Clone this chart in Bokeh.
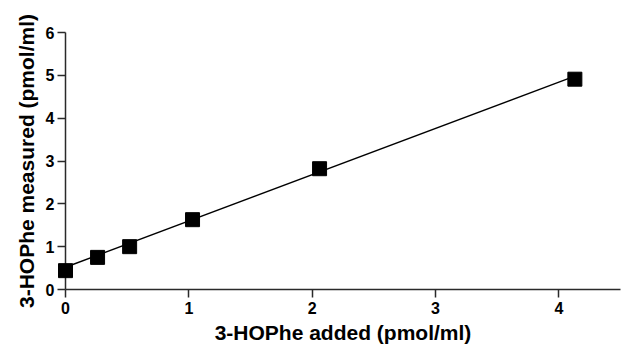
from bokeh.plotting import figure
from bokeh.models import Range1d, FixedTicker
from bokeh.embed import file_html
from bokeh.resources import INLINE

# data
added = [0.0, 0.26, 0.52, 1.03, 2.06, 4.13]
measured = [0.44, 0.75, 1.0, 1.63, 2.82, 4.91]
fit_x = [0.0, 4.13]
fit_y = [0.52, 4.98]
x_ticks = [0, 1, 2, 3, 4]
y_ticks = [0, 1, 2, 3, 4, 5, 6]

FONT = "Liberation Sans"
AX = "#2a2a2a"

p = figure(frame_width=555, frame_height=257, output_backend="svg",
           toolbar_location=None, x_range=Range1d(0, 4.5), y_range=Range1d(0, 6),
           min_border_left=65, min_border_top=32, min_border_right=4, min_border_bottom=0)
p.outline_line_color = None
p.xgrid.visible = False
p.ygrid.visible = False

p.line(fit_x, fit_y, line_color="black", line_width=1.4)
r = p.scatter(added, measured, marker="square", size=14, fill_color="black", line_color="black")
r.level = "overlay"

for ax, ticks, lab in ((p.xaxis[0], x_ticks, "3-HOPhe added (pmol/ml)"),
                       (p.yaxis[0], y_ticks, "3-HOPhe measured (pmol/ml)")):
    ax.ticker = FixedTicker(ticks=ticks)
    ax.minor_tick_line_color = None
    ax.major_tick_out = 8
    ax.major_tick_in = 0
    ax.axis_line_color = AX
    ax.axis_line_width = 1.5
    ax.major_tick_line_color = AX
    ax.major_tick_line_width = 1.5
    ax.major_label_text_font = FONT
    ax.major_label_text_font_style = "bold"
    ax.major_label_text_font_size = "16px"
    ax.major_label_text_color = "black"
    ax.axis_label = lab
    ax.axis_label_text_font = FONT
    ax.axis_label_text_font_style = "bold"
    ax.axis_label_text_font_size = "21px"
    ax.axis_label_text_color = "black"

p.xaxis.major_label_standoff = 4
p.xaxis.axis_label_standoff = 4
p.yaxis.major_label_standoff = 3
p.yaxis.axis_label_standoff = 5

open("out.html", "w").write(file_html(p, INLINE))
